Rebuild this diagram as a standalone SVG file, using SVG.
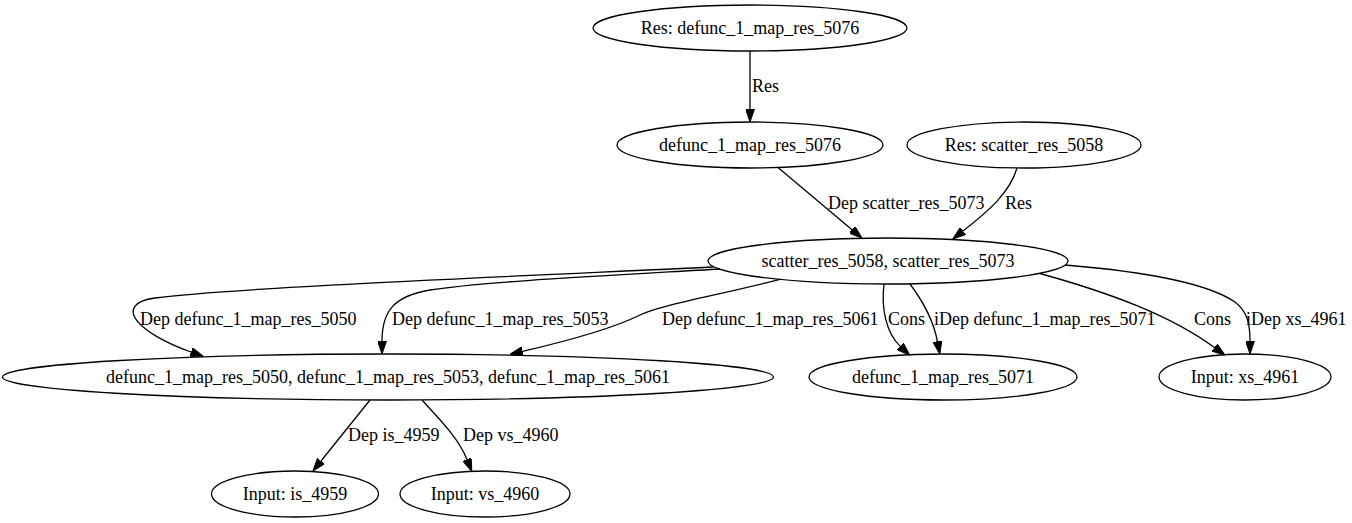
<svg xmlns="http://www.w3.org/2000/svg" width="1352" height="523" viewBox="0 0 1352 523" font-family="'Liberation Serif', serif" font-size="18">
<style>
.node ellipse{fill:none;stroke:#000;stroke-width:1.3}
text{font-family:"Liberation Serif",serif;font-size:18px;fill:#000}
.node text{text-anchor:middle}
.edges path{fill:none;stroke:#000;stroke-width:1.3}
</style>
<defs>
<marker id="arr" viewBox="0 0 13 9" refX="0" refY="4.5" markerWidth="13" markerHeight="9" markerUnits="userSpaceOnUse" orient="auto">
<path d="M0,0 L13,4.5 L0,9 z" fill="#000" stroke="#000" stroke-width="1"/>
</marker>
</defs>
<rect width="1352" height="523" fill="#fff"/>
<g class="edges" id="edges">
<path d="M750,51 L750,109" marker-end="url(#arr)"/>
<text x="752" y="91.5">Res</text>
<path d="M778,167.5 L852,229.7" marker-end="url(#arr)"/>
<text x="828" y="209">Dep scatter_res_5073</text>
<path d="M1017,168 C1010,192 990,210 963,231" marker-end="url(#arr)"/>
<text x="1005" y="209">Res</text>
<path d="M713,267 C500,277 230,288 155,298 C112,304 137,333 191,352" marker-end="url(#arr)"/>
<text x="140" y="325">Dep defunc_1_map_res_5050</text>
<path d="M720,269 C600,276 480,282 430,290 C395,296 382,310 382,341" marker-end="url(#arr)"/>
<text x="392" y="325">Dep defunc_1_map_res_5053</text>
<path d="M780,279.4 C720,295 660,305 640,315 C620,325 580,338 522.5,351.4" marker-end="url(#arr)"/>
<text x="662" y="325">Dep defunc_1_map_res_5061</text>
<path d="M884,284 C881,308 886,333 900.3,346.4" marker-end="url(#arr)"/>
<text x="888" y="325">Cons</text>
<path d="M910,284 C922,300 933,318 937.4,341.3" marker-end="url(#arr)"/>
<text x="934" y="325">iDep defunc_1_map_res_5071</text>
<path d="M1040,273.5 C1110,293 1170,315 1214.5,347.5" marker-end="url(#arr)"/>
<text x="1194" y="325">Cons</text>
<path d="M1065,265 C1150,272 1210,285 1235,302 C1248,312 1250,325 1250,341" marker-end="url(#arr)"/>
<text x="1246" y="325">iDep xs_4961</text>
<path d="M370,400 L321,461" marker-end="url(#arr)"/>
<text x="348" y="441">Dep is_4959</text>
<path d="M422,400 C438,418 458,437 467,459.4" marker-end="url(#arr)"/>
<text x="463" y="441">Dep vs_4960</text>
</g>
<g class="node" id="n_res_defunc_5076"><ellipse cx="750" cy="28" rx="157" ry="23"/><text x="750" y="34">Res: defunc_1_map_res_5076</text></g>
<g class="node" id="n_defunc_5076"><ellipse cx="750" cy="145" rx="133" ry="23"/><text x="750" y="151">defunc_1_map_res_5076</text></g>
<g class="node" id="n_res_scatter_5058"><ellipse cx="1024" cy="145" rx="117" ry="23"/><text x="1024" y="151">Res: scatter_res_5058</text></g>
<g class="node" id="n_scatter"><ellipse cx="888" cy="261" rx="180" ry="23"/><text x="888" y="267">scatter_res_5058, scatter_res_5073</text></g>
<g class="node" id="n_defunc_group"><ellipse cx="388" cy="377" rx="385.5" ry="23"/><text x="388" y="383">defunc_1_map_res_5050, defunc_1_map_res_5053, defunc_1_map_res_5061</text></g>
<g class="node" id="n_defunc_5071"><ellipse cx="943" cy="377" rx="134" ry="23"/><text x="943" y="383">defunc_1_map_res_5071</text></g>
<g class="node" id="n_xs_4961"><ellipse cx="1245" cy="377" rx="86" ry="23"/><text x="1245" y="383">Input: xs_4961</text></g>
<g class="node" id="n_is_4959"><ellipse cx="295" cy="494" rx="83.5" ry="23"/><text x="295" y="500">Input: is_4959</text></g>
<g class="node" id="n_vs_4960"><ellipse cx="485" cy="494" rx="85" ry="23"/><text x="485" y="500">Input: vs_4960</text></g>
</svg>
